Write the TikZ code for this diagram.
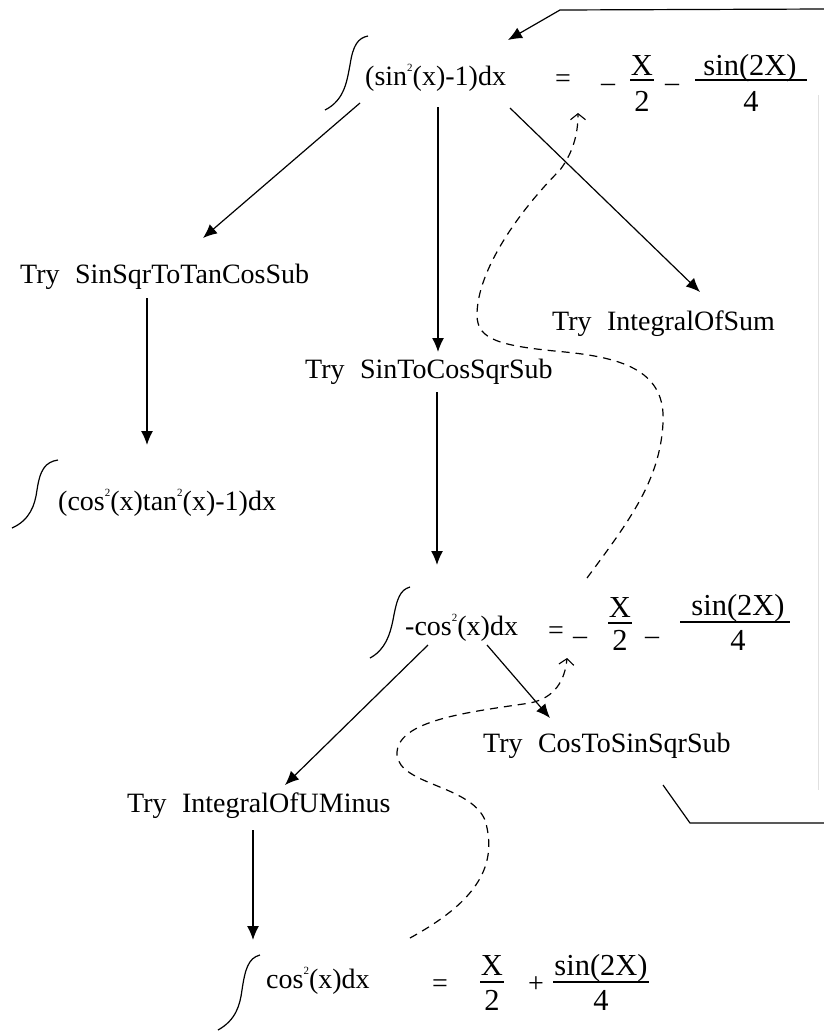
\documentclass[tikz,border=0pt]{standalone}
\usepackage{fontspec}
\setmainfont{Liberation Serif}
\usetikzlibrary{arrows.meta}
\newcommand\sqr{\raisebox{0.5em}{\fontsize{11}{11}\selectfont 2}}
\newcommand\gap{\hspace{0.55em}}
\begin{document}
\begin{tikzpicture}[x=1pt,y=-1pt,
  txt/.style={anchor=base west,inner sep=0pt,font=\fontsize{28}{30}\selectfont},
  ctr/.style={anchor=base,inner sep=0pt,font=\fontsize{28}{30}\selectfont},
  frc/.style={anchor=base,inner sep=0pt,font=\fontsize{30.5}{32}\selectfont},
  conn/.style={line width=1.2pt,-{Latex[length=14pt,width=12pt]}},
  back/.style={line width=1.2pt,dash pattern=on 8pt off 6pt,
    -{Straight Barb[length=6pt,width=15pt,line width=1.1pt]}},
  plain/.style={line width=1.2pt},
  faint/.style={line width=1pt,black!12},
  isign/.style={line width=1.2pt},
  fbar/.style={line width=1.4pt}]
\useasboundingbox (0,0) rectangle (824,1031);

% ---- top integral ----
\draw[isign] (325,110) .. controls (345,100) and (347,80) .. (350,65)
  .. controls (353,45) and (358,38) .. (368,36);
\node[txt] (top) at (365,85) {(sin\sqr(x)-1)dx};
\node[ctr] (topeq) at (563,87) {=};
\node[ctr] at (608,91) {–};
\node[frc] (topx) at (642,75) {X};
\draw[fbar] (630,80) -- (654,80);
\node[frc] at (642,111) {2};
\node[ctr] at (672,91) {–};
\node[frc] (topsin) at (750,75) {sin(2X)};
\draw[fbar] (695,80) -- (807,80);
\node[frc] at (751,111) {4};

% ---- first level ----
\node[txt] (tanc) at (20,283) {Try\gap SinSqrToTanCosSub};
\node[txt] (sum) at (552,330) {Try\gap IntegralOfSum};
\node[txt] (sinc) at (305,378) {Try\gap SinToCosSqrSub};

% ---- left result ----
\draw[isign] (12,528) .. controls (30,520) and (35,505) .. (37,490)
  .. controls (40,470) and (45,462) .. (58,460);
\node[txt] (tanres) at (58,510) {(cos\sqr(x)tan\sqr(x)-1)dx};

% ---- middle integral ----
\draw[isign] (370,658) .. controls (385,650) and (390,635) .. (393,620)
  .. controls (397,598) and (400,590) .. (410,587);
\node[txt] (mid) at (405,635) {-cos\sqr(x)dx};
\node[ctr] (mideq) at (556,639) {=};
\node[ctr] at (580,644) {–};
\node[frc] at (620,617) {X};
\draw[fbar] (608,623) -- (632,623);
\node[frc] at (620,650) {2};
\node[ctr] (midm) at (652,644) {–};
\node[frc] at (738,615) {sin(2X)};
\draw[fbar] (680,622) -- (790,622);
\node[frc] at (738,650) {4};

% ---- second level ----
\node[txt] (cossin) at (483,752) {Try\gap CosToSinSqrSub};
\node[txt] (umin) at (127,812) {Try\gap IntegralOfUMinus};

% ---- bottom integral ----
\draw[isign] (218,1030) .. controls (236,1020) and (240,1005) .. (242,990)
  .. controls (245,970) and (248,958) .. (260,955);
\node[txt] (bot) at (266,988) {cos\sqr(x)dx};
\node[ctr] (boteq) at (440,992) {=};
\node[frc] at (492,975) {X};
\draw[fbar] (480,982) -- (504,982);
\node[frc] at (492,1010) {2};
\node[ctr] at (536,992) {+};
\node[frc] at (601,975) {sin(2X)};
\draw[fbar] (553,982) -- (649,982);
\node[frc] at (601,1010) {4};

% ---- tree connectors ----
\coordinate (a1) at (360,103);  \coordinate (a1e) at (203,238);
\coordinate (a2) at (438,107);  \coordinate (a2e) at (438,352);
\coordinate (a3) at (510,108);  \coordinate (a3e) at (700,292);
\coordinate (b1) at (147,298);  \coordinate (b1e) at (147,445);
\coordinate (b2) at (437,392);  \coordinate (b2e) at (437,565);
\coordinate (c1) at (428,645);  \coordinate (c1e) at (285,785);
\coordinate (c2) at (487,645);  \coordinate (c2e) at (550,718);
\coordinate (d1) at (253,830);  \coordinate (d1e) at (253,940);
\draw[conn] (a1) -- (a1e);
\draw[conn] (a2) -- (a2e);
\draw[conn] (a3) -- (a3e);
\draw[conn] (b1) -- (b1e);
\draw[conn] (b2) -- (b2e);
\draw[conn] (c1) -- (c1e);
\draw[conn] (c2) -- (c2e);
\draw[conn] (d1) -- (d1e);

% ---- loop back from CosToSinSqrSub to the top integral ----
\coordinate (r0) at (663,785);
\coordinate (r1) at (690,823);
\coordinate (r2) at (826,823);
\coordinate (r3) at (826,9);
\coordinate (r4) at (560,10);
\coordinate (r5) at (508,40);
\coordinate (e0) at (818,95);
\coordinate (e1) at (818,790);
\draw[plain] (r0) -- (r1) -- (r2);
\draw[conn] (r3) -- (r4) -- (r5);
\draw[faint] (e0) -- (e1);

% ---- dashed result paths ----
\coordinate (s0) at (410,938);
\coordinate (s1) at (567,658);
\draw[back] (s0) .. controls (470,905) and (500,870) .. (485,820)
  .. controls (470,785) and (400,785) .. (397,755)
  .. controls (395,720) and (470,712) .. (530,703)
  .. controls (555,698) and (565,680) .. (s1);
\coordinate (t0) at (587,578);
\coordinate (t1) at (578,113);
\draw[back] (t0) .. controls (630,520) and (660,480) .. (663,423)
  .. controls (666,372) and (625,358) .. (565,352)
  .. controls (500,346) and (477,340) .. (477,315)
  .. controls (477,270) and (520,210) .. (560,170)
  .. controls (575,150) and (578,130) .. (t1);
\end{tikzpicture}
\end{document}
